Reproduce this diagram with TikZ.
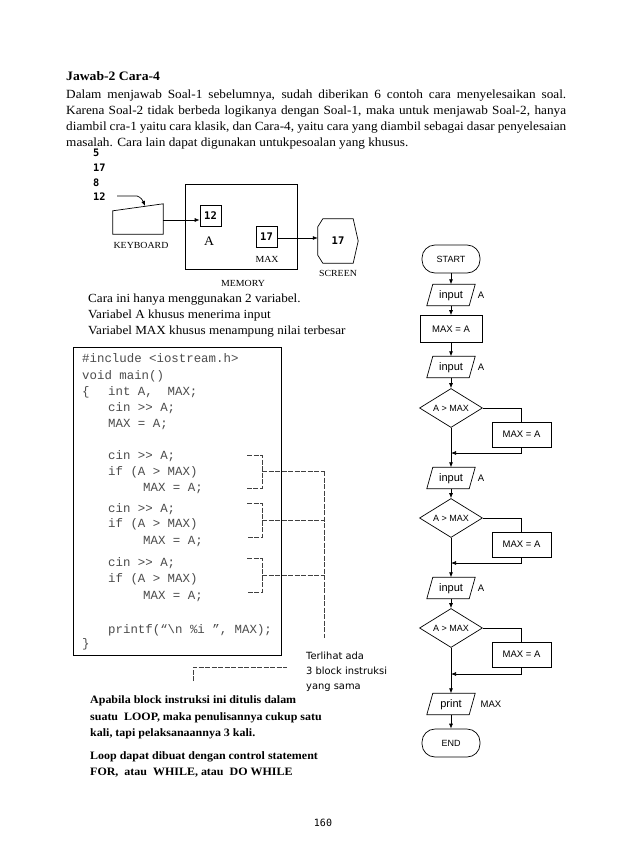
\documentclass[tikz,border=0pt]{standalone}
\usepackage{fontspec}
\setmainfont{Liberation Serif}[FakeStretch=1.06]
\newfontfamily\arialf{Liberation Sans}
\newfontfamily\courf{Liberation Mono}
\newfontfamily\djmono{DejaVu Sans Mono}
\newfontfamily\djsans{DejaVu Sans}
\usetikzlibrary{shapes.geometric,arrows.meta}
\tikzset{
  ln/.style={line width=0.7pt},
  arr/.style={-{Latex[length=5pt,width=4pt]}, line width=0.7pt},
  term/.style={draw, line width=0.7pt, rectangle, rounded corners=13pt, minimum width=58pt, minimum height=28pt, inner sep=0pt, font=\arialf\fontsize{9}{10}\selectfont},
  io/.style={rectangle, minimum width=48pt, minimum height=21pt, inner sep=0pt, text depth=0pt, font=\arialf\fontsize{11}{12}\selectfont},
  proc/.style={draw, line width=0.7pt, rectangle, minimum width=62pt, minimum height=27pt, inner sep=0pt, font=\arialf\fontsize{9.5}{10}\selectfont},
  yesbox/.style={draw, line width=0.7pt, rectangle, minimum width=59pt, minimum height=25pt, inner sep=0pt, font=\arialf\fontsize{9.5}{10}\selectfont},
  dec/.style={draw, line width=0.7pt, diamond, aspect=1.6, minimum width=63pt, minimum height=39pt, inner sep=0pt, font=\arialf\fontsize{9}{10}\selectfont},
  flab/.style={inner sep=0pt, font=\arialf\fontsize{9.5}{10}\selectfont},
  body/.style={anchor=base west, inner sep=0pt, font=\fontsize{12.5}{15}\selectfont},
  cara/.style={anchor=base west, inner sep=0pt, font=\fontsize{12.4}{15}\selectfont},
  note/.style={anchor=base west, inner sep=0pt, font=\bfseries\fontsize{11.3}{13}\selectfont},
  code/.style={anchor=base west, inner sep=0pt, text=black!70, font=\courf\fontsize{12.4}{14}\selectfont},
  num/.style={anchor=base west, inner sep=0pt, font=\djmono\bfseries\fontsize{10.3}{12}\selectfont},
  cell/.style={draw, line width=0.7pt, minimum width=21pt, minimum height=21pt, inner sep=0pt, font=\djmono\bfseries\fontsize{10.5}{12}\selectfont},
  mlab/.style={inner sep=0pt, font=\fontsize{9.3}{11}\selectfont},
  dsh/.style={line width=0.5pt, draw=black!75, dash pattern=on 5pt off 1.5pt},
  tl/.style={anchor=base west, inner sep=0pt, font=\djsans\fontsize{9.9}{11}\selectfont},
}
\newcommand\paraio[1]{\draw[ln] (#1.south west) -- ([xshift=-6pt]#1.south east) -- (#1.north east) -- ([xshift=6pt]#1.north west) -- cycle;}
\begin{document}
\begin{tikzpicture}[x=1pt,y=-1pt]
\useasboundingbox (0,0) rectangle (638,851);
\fill[white] (0,0) rectangle (638,851);

% ---- heading and paragraph
\node[anchor=base west, inner sep=0pt, font=\bfseries\fontsize{12.9}{15}\selectfont] (title) at (66,81) {Jawab-2 Cara-4};
\node[body] (p1) at (66,98) {\makebox[500pt][s]{Dalam menjawab Soal-1 sebelumnya, sudah diberikan 6 contoh cara menyelesaikan soal.}};
\node[body] (p2) at (66,114) {\makebox[500pt][s]{Karena Soal-2 tidak berbeda logikanya dengan Soal-1, maka untuk menjawab Soal-2, hanya}};
\node[body] (p3) at (66,130) {\makebox[500pt][s]{\spaceskip=2.4pt plus 8pt minus 1pt diambil cra-1 yaitu cara klasik, dan Cara-4, yaitu cara yang diambil sebagai dasar penyelesaian}};
\node[body] (p4) at (66,146) {masalah. Cara lain dapat digunakan untukpesoalan yang khusus.};

% ---- memory diagram
\node[num] (n5) at (93,156) {5};
\node[num] (n17) at (93,171) {17};
\node[num] (n8) at (93,186) {8};
\node[num] (n12) at (93,200) {12};

\node[minimum width=50pt, minimum height=30pt, inner sep=0pt] (kb) at (138,219) {};
\draw[ln] (kb.south west) -- (kb.south east) -- (kb.north east) -- ([yshift=-7pt]kb.north west) -- cycle;
\node[mlab] (kblab) at (141,245) {KEYBOARD};
\coordinate (kbtop) at (145,206);
\draw[arr] (117,196) -- (137,196) .. controls (141,197) and (143,201) .. (kbtop);

\node[draw, line width=0.8pt, minimum width=112pt, minimum height=85pt, inner sep=0pt] (mem) at (241,226.5) {};
\node[mlab] (memlab) at (243,283) {MEMORY};
\node[cell] (va) at (210.5,215.5) {12};
\node[inner sep=0pt, font=\fontsize{13}{14}\selectfont] (valab) at (209,241) {A};
\node[cell] (vm) at (266.5,236.5) {17};
\node[mlab] (vmlab) at (267,259) {MAX};
\draw[arr] (kb.east |- 0,220) -- (va.west |- 0,220);

\node[minimum width=40pt, minimum height=44pt, inner sep=0pt, font=\djmono\bfseries\fontsize{10.5}{12}\selectfont] (scr) at (338,241) {17};
\draw[ln] ([xshift=5pt]scr.north west) -- ([xshift=-5pt]scr.north east) -- (scr.east) -- ([xshift=-5pt]scr.south east) -- ([xshift=5pt]scr.south west) -- ([yshift=8pt]scr.south west) -- ([yshift=-8pt]scr.north west) -- cycle;
\node[mlab] (scrlab) at (338,273) {SCREEN};
\draw[arr] (vm.east |- 0,238) -- (scr.west |- 0,238);

% ---- explanation
\node[cara] (c1) at (88,302) {Cara ini hanya menggunakan 2 variabel.};
\node[cara] (c2) at (88,318) {Variabel A khusus menerima input};
\node[cara] (c3) at (88,334) {Variabel MAX khusus menampung nilai terbesar};

% ---- code box
\node[draw, line width=0.8pt, minimum width=208pt, minimum height=308pt, inner sep=0pt] (codebox) at (177,501) {};
\node[code] (k1) at (82,362) {\#include <iostream.h>};
\node[code] (k2) at (82,379) {void main()};
\node[code] (k3) at (82,395) {\{\hspace{18.5pt}int A,~~MAX;};
\node[code] (k4) at (108,411) {cin >> A;};
\node[code] (k5) at (108,427) {MAX = A;};
\node[code] (k6) at (108,459) {cin >> A;};
\node[code] (k7) at (108,475) {if (A > MAX)};
\node[code] (k8) at (143,491) {MAX = A;};
\node[code] (k9) at (108,512) {cin >> A;};
\node[code] (k10) at (108,527) {if (A > MAX)};
\node[code] (k11) at (143,544) {MAX = A;};
\node[code] (k12) at (108,566) {cin >> A;};
\node[code] (k13) at (108,582) {if (A > MAX)};
\node[code] (k14) at (143,599) {MAX = A;};
\node[code] (k15) at (108,633) {printf(“\textbackslash n \%i ”, MAX);};
\node[code] (k16) at (82,647) {\}};

% ---- brackets
\draw[dsh] (247,455) -- (262,455) -- (262,488) -- (247,488);
\draw[dsh] (247,503) -- (262,503) -- (262,537) -- (247,537);
\draw[dsh] (247,558) -- (262,558) -- (262,592) -- (247,592);
\draw[dsh] (262,471) -- (324,471);
\draw[dsh] (262,520) -- (324,520);
\draw[dsh] (262,575) -- (324,575);
\draw[dsh] (324,471) -- (324,638);
\draw[dsh] (193,681) -- (193,667) -- (287,667);

\node[tl] (t1) at (306,659) {Terlihat ada};
\node[tl] (t2) at (306,674) {3 block instruksi};
\node[tl] (t3) at (306,689) {yang sama};

\node[note] (b1t) at (90,703.5) {Apabila block instruksi ini ditulis dalam};
\node[note] (b2t) at (90,720) {suatu~~LOOP, maka penulisannya cukup satu};
\node[note] (b3t) at (90,736) {kali, tapi pelaksanaannya 3 kali.};
\node[note] (b4t) at (90,759.5) {Loop dapat dibuat dengan control statement};
\node[note] (b5t) at (90,775.5) {FOR,~~atau~~WHILE, atau~~DO WHILE};

% ---- flowchart
\node[term] (st) at (451,259) {START};
\node[io] (in1) at (451,295) {input}; \paraio{in1}
\node[flab] (a1) at (481,295) {A};
\node[proc] (s1) at (451,329) {MAX = A};
\node[io] (in2) at (451,367) {input}; \paraio{in2}
\node[flab] (a2) at (481,367) {A};
\node[dec] (d1) at (451,408) {A > MAX};
\node[yesbox] (y1) at (521.5,434.5) {MAX = A};
\coordinate (j1) at (451,453);
\node[io] (in3) at (451,478) {input}; \paraio{in3}
\node[flab] (a3) at (481,478) {A};
\node[dec] (d2) at (451,518) {A > MAX};
\node[yesbox] (y2) at (521.5,544.5) {MAX = A};
\coordinate (j2) at (451,563);
\node[io] (in4) at (451,588) {input}; \paraio{in4}
\node[flab] (a4) at (481,588) {A};
\node[dec] (d3) at (451,628) {A > MAX};
\node[yesbox] (y3) at (521.5,654.5) {MAX = A};
\coordinate (j3) at (451,674);
\node[io] (pr) at (451,704) {print}; \paraio{pr}
\node[flab] (mx) at (491,704) {MAX};
\node[term] (en) at (451,743) {END};

\draw[arr] (st) -- (in1);
\draw[arr] (in1) -- (s1);
\draw[arr] (s1) -- (in2);
\draw[arr] (in2) -- (d1);
\draw[ln] (d1.east) -| (y1.north);
\draw[arr] (y1.south) |- (j1);
\draw[arr] (d1.south) -- (in3);
\draw[arr] (in3) -- (d2);
\draw[ln] (d2.east) -| (y2.north);
\draw[arr] (y2.south) |- (j2);
\draw[arr] (d2.south) -- (in4);
\draw[arr] (in4) -- (d3);
\draw[ln] (d3.east) -| (y3.north);
\draw[arr] (y3.south) |- (j3);
\draw[arr] (d3.south) -- (pr);
\draw[arr] (pr) -- (en);

\node[inner sep=0pt, font=\djmono\fontsize{10}{12}\selectfont] (pg) at (323,823) {160};
\end{tikzpicture}
\end{document}
